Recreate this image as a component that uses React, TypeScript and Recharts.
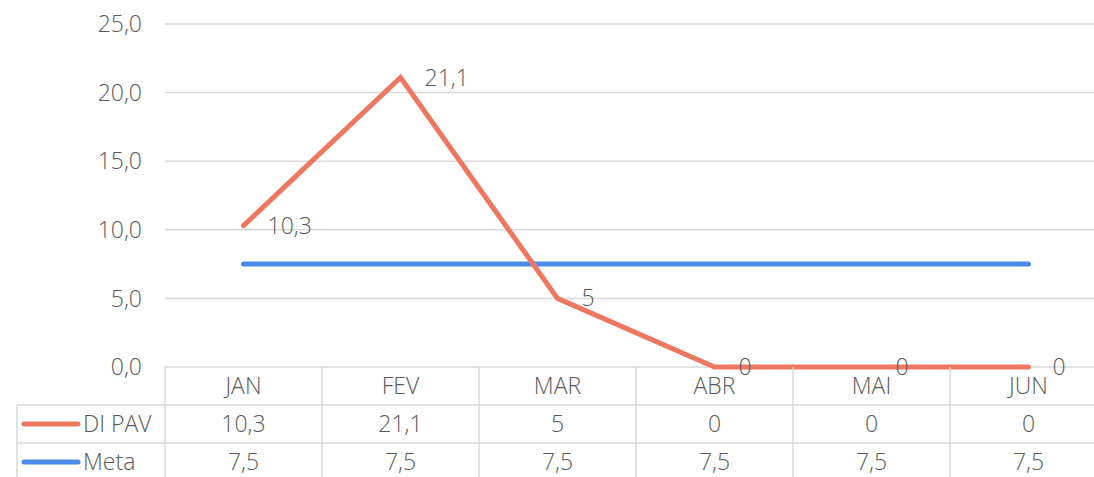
import { LineChart, Line, XAxis, YAxis, CartesianGrid, LabelList } from 'recharts';

const months = ['JAN', 'FEV', 'MAR', 'ABR', 'MAI', 'JUN'];
const diPav = [10.3, 21.1, 5, 0, 0, 0];
const meta = [7.5, 7.5, 7.5, 7.5, 7.5, 7.5];
const yTicks = [0, 5, 10, 15, 20, 25];

const seriesNames = ['DI PAV', 'Meta'];
const seriesColors = ['#EE7762', '#4A8BEA'];

const data = months.map((m, i) => ({ month: m, diPav: diPav[i], meta: meta[i] }));

const W = 1110;
const H = 477;
const LEFT = 165;
const PLOT_W = 942;
const COL_W = PLOT_W / months.length;
const ROW_H = 38;
const FONT = '"Open Sans", "Lato", sans-serif';
const FS = 23;
const TEXT = '#595959';
const GRID = '#d9d9d9';

const fmt = (v: number) => String(v).replace('.', ',');

// x-axis ticks double as the data table under the plot
function TableTick(props: any) {
  const { x, y, payload } = props;
  const i = payload.index ?? props.index ?? 0;
  const rows = [months[i], fmt(diPav[i]), fmt(meta[i])];
  return (
    <g>
      <line x1={x - COL_W / 2} x2={x - COL_W / 2} y1={y} y2={y + ROW_H * 3 + 5} stroke={GRID} strokeWidth={1.5} />
      {i === 0 && (
        <g>
          <line x1={17} x2={W} y1={y + ROW_H} y2={y + ROW_H} stroke={GRID} strokeWidth={1.5} />
          <line x1={17} x2={W} y1={y + ROW_H * 2} y2={y + ROW_H * 2} stroke={GRID} strokeWidth={1.5} />
          <line x1={17} x2={17} y1={y + ROW_H} y2={y + ROW_H * 3 + 5} stroke={GRID} strokeWidth={1.5} />
          {seriesNames.map((n, k) => (
            <g key={n}>
              <line
                x1={24}
                x2={78}
                y1={y + ROW_H * (k + 1.5)}
                y2={y + ROW_H * (k + 1.5)}
                stroke={seriesColors[k]}
                strokeWidth={5}
                strokeLinecap="round"
              />
              <text
                x={83}
                y={y + ROW_H * (k + 1.5)}
                dy="0.35em"
                fontSize={FS}
                fontFamily={FONT}
                fontWeight={300}
                fill={TEXT}
              >
                {n}
              </text>
            </g>
          ))}
        </g>
      )}
      {rows.map((t, r) => (
        <text
          key={r}
          x={x}
          y={y + ROW_H * (r + 0.5)}
          dy="0.35em"
          textAnchor="middle"
          fontSize={FS}
          fontFamily={FONT}
          fontWeight={300}
          fill={TEXT}
        >
          {t}
        </text>
      ))}
    </g>
  );
}

function PointLabel(props: any) {
  const { x, y, value } = props;
  return (
    <text
      x={x + 24}
      y={y}
      dy="0.35em"
      textAnchor="start"
      fontSize={FS}
      fontFamily={FONT}
      fontWeight={300}
      fill={TEXT}
    >
      {fmt(value)}
    </text>
  );
}

export default function App() {
  return (
    <div
      style={{
        position: 'fixed',
        left: 0,
        top: 0,
        width: 1094,
        height: H,
        overflow: 'hidden',
        background: '#fff',
      }}
    >
      <LineChart width={W} height={H} data={data} margin={{ top: 24, right: W - LEFT - PLOT_W, bottom: 0, left: 0 }}>
        <CartesianGrid vertical={false} stroke={GRID} strokeWidth={1.5} />
        <XAxis
          dataKey="month"
          axisLine={false}
          tickLine={false}
          tickSize={0}
          tickMargin={0}
          height={110}
          interval={0}
          padding={{ left: COL_W / 2, right: COL_W / 2 }}
          tick={<TableTick />}
        />
        <YAxis
          domain={[0, 25]}
          ticks={yTicks}
          width={LEFT}
          axisLine={false}
          tickLine={false}
          tickSize={0}
          tickMargin={23}
          tickFormatter={(v: number) => v.toFixed(1).replace('.', ',')}
          tick={{ fontSize: FS, fontFamily: FONT, fontWeight: 300, fill: TEXT }}
        />
        <Line
          dataKey="meta"
          stroke={seriesColors[1]}
          strokeWidth={5}
          strokeLinecap="round"
          dot={false}
          isAnimationActive={false}
          type="linear"
        />
        <Line
          dataKey="diPav"
          stroke={seriesColors[0]}
          strokeWidth={5}
          strokeLinecap="round"
          dot={false}
          isAnimationActive={false}
          type="linear"
        >
          <LabelList dataKey="diPav" content={<PointLabel />} />
        </Line>
      </LineChart>
    </div>
  );
}
